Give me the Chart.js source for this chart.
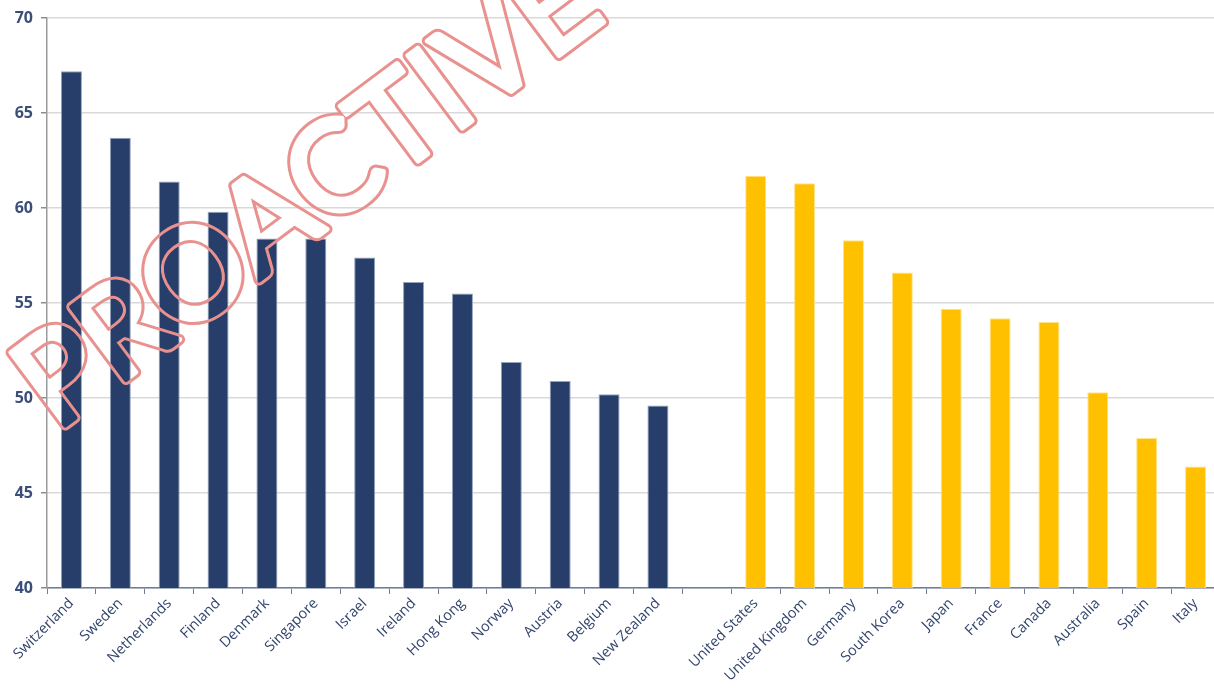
<!DOCTYPE html>
<html>
<head>
<meta charset="utf-8">
<script src="https://cdn.jsdelivr.net/npm/chart.js@4.4.1/dist/chart.umd.min.js"></script>
<style>
  html, body { margin: 0; padding: 0; background: #ffffff; overflow: hidden; }
  #wrap { position: absolute; left: 0; top: 0; width: 1220px; height: 693px; }
</style>
</head>
<body>
<div id="wrap"><canvas id="chart"></canvas></div>
<script>
// Smaller economies (navy) and larger economies (gold)
const smallCountries = ['Switzerland', 'Sweden', 'Netherlands', 'Finland', 'Denmark', 'Singapore', 'Israel', 'Ireland', 'Hong Kong', 'Norway', 'Austria', 'Belgium', 'New Zealand'];
const smallValues = [67.2, 63.7, 61.4, 59.8, 58.4, 58.4, 57.4, 56.1, 55.5, 51.9, 50.9, 50.2, 49.6];

const largeCountries = ['United States', 'United Kingdom', 'Germany', 'South Korea', 'Japan', 'France', 'Canada', 'Australia', 'Spain', 'Italy'];
const largeValues = [61.7, 61.3, 58.3, 56.6, 54.7, 54.2, 54.0, 50.3, 47.9, 46.4];

const yTicks = [40, 45, 50, 55, 60, 65, 70];

const NAVY = '#263e69';
const GOLD = '#ffc000';

// One empty category separates the two groups
const labels = [...smallCountries, '', ...largeCountries];
const values = [...smallValues, null, ...largeValues];
const fills = [...smallCountries.map(() => NAVY), 'rgba(0,0,0,0)', ...largeCountries.map(() => GOLD)];
const edges = [...smallCountries.map(() => '#95a3bd'), 'rgba(0,0,0,0)', ...largeCountries.map(() => '#ffe38c')];

// Outlined diagonal stamp drawn over the plot: the glyphs are thickened,
// then hollowed out on an offscreen layer so only a thin rim remains.
const stamp = {
  id: 'stamp',
  afterDraw(chart) {
    const word = 'PROACTIVE';
    const layer = document.createElement('canvas');
    layer.width = chart.canvas.width;
    layer.height = chart.canvas.height;
    const c = layer.getContext('2d');
    c.font = '100px Lato';
    const size = 100 * 690 / c.measureText(word).width;
    c.font = size.toFixed(1) + 'px Lato';
    c.translate(56, 432);
    c.rotate(-36.8 * Math.PI / 180);
    c.textAlign = 'left';
    c.textBaseline = 'alphabetic';
    c.lineJoin = 'round';
    const grow = 5;   // extra stem thickness
    const rim = 3;    // outline width
    c.strokeStyle = '#e8918f';
    c.lineWidth = grow + 2 * rim;
    c.strokeText(word, 0, 0);
    c.globalCompositeOperation = 'destination-out';
    c.fillStyle = '#000';
    c.strokeStyle = '#000';
    c.fillText(word, 0, 0);
    c.lineWidth = grow;
    c.strokeText(word, 0, 0);
    chart.ctx.save();
    chart.ctx.setTransform(1, 0, 0, 1, 0, 0);
    chart.ctx.drawImage(layer, 0, 0);
    chart.ctx.restore();
  }
};

function draw() {
  new Chart(document.getElementById('chart'), {
    type: 'bar',
    data: {
      labels: labels,
      datasets: [{
        data: values,
        backgroundColor: fills,
        borderColor: edges,
        borderWidth: 1,
        barPercentage: 0.43,
        categoryPercentage: 1.0
      }]
    },
    options: {
      responsive: true,
      maintainAspectRatio: false,
      animation: false,
      layout: { padding: { top: 18, left: 0, right: 0, bottom: 0 } },
      plugins: {
        legend: { display: false },
        tooltip: { enabled: false }
      },
      scales: {
        x: {
          offset: true,
          grid: {
            display: true,
            offset: true,
            drawOnChartArea: false,
            drawTicks: true,
            tickLength: 6,
            tickColor: '#6f7d99'
          },
          border: { display: true, color: '#6f7d99', width: 1.5 },
          ticks: {
            autoSkip: false,
            minRotation: 45,
            maxRotation: 45,
            padding: 1,
            color: '#33456e',
            font: { family: '"Open Sans"', size: 14.5 }
          },
          afterFit(scale) { scale.height = 105; }
        },
        y: {
          min: 40,
          max: 70,
          afterBuildTicks(scale) { scale.ticks = yTicks.map(v => ({ value: v })); },
          grid: {
            color: '#d9d9d9',
            lineWidth: 1.5,
            tickLength: 6,
            tickColor: '#8c8c8c'
          },
          border: { display: true, color: '#9a9a9a', width: 1.5 },
          ticks: {
            padding: 8,
            color: '#3b4e78',
            font: { family: '"Open Sans"', size: 16, weight: 'bold' }
          },
          afterFit(scale) { scale.width = 47; }
        }
      }
    },
    plugins: [stamp]
  });
}

Promise.all([
  document.fonts.load('120px Lato'),
  document.fonts.load('14.5px "Open Sans"'),
  document.fonts.load('bold 16px "Open Sans"')
]).then(draw, draw);
</script>
</body>
</html>
